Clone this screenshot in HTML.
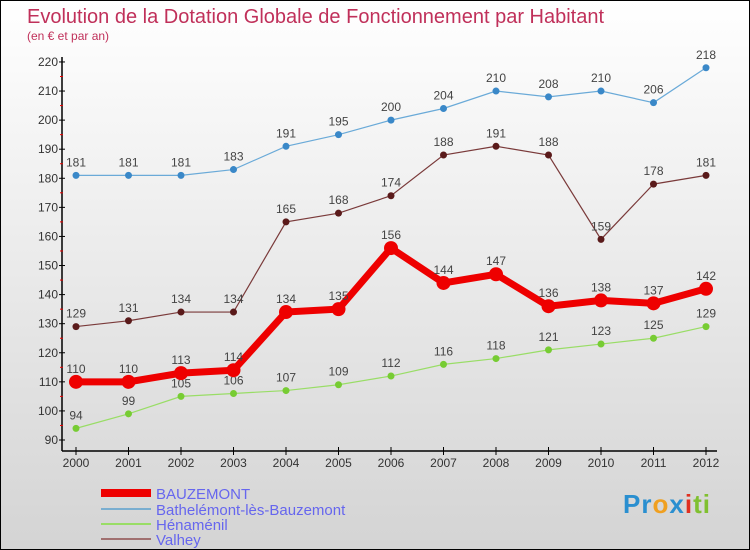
<!DOCTYPE html>
<html><head><meta charset="utf-8"><style>
body{margin:0}
#c{width:750px;height:550px;position:relative;box-sizing:border-box;border:1px solid #000;background:linear-gradient(#fff,#d4d4d4);font-family:"Liberation Sans",sans-serif;overflow:hidden}
</style></head><body>
<div id="c">
<svg id="s" width="748" height="548" style="position:absolute;left:0;top:0">
<text x="26" y="22" font-size="20" fill="#c0305a">Evolution de la Dotation Globale de Fonctionnement par Habitant</text>
<text x="26" y="39" font-size="12" fill="#c0305a">(en € et par an)</text>
<g id="g"></g>
</svg>
<div style="position:absolute;left:622px;top:488px;font-size:26px;font-weight:bold;letter-spacing:1px"><span style="color:#2a8fd0">Pr</span><span style="color:#f0a020">o</span><span style="color:#2a8fd0">x</span><span style="color:#e03020">i</span><span style="color:#80c030">ti</span></div>
</div>
<script>
const years=[2000,2001,2002,2003,2004,2005,2006,2007,2008,2009,2010,2011,2012];
const yTicks=[90,100,110,120,130,140,150,160,170,180,190,200,210,220];
const bauzemont=[110,110,113,114,134,135,156,144,147,136,138,137,142];
const bathelemont=[181,181,181,183,191,195,200,204,210,208,210,206,218];
const henamenil=[94,99,105,106,107,109,112,116,118,121,123,125,129];
const valhey=[129,131,134,134,165,168,174,188,191,188,159,178,181];
const seriesNames=["BAUZEMONT","Bathelémont-lès-Bauzemont","Hénaménil","Valhey"];
const NS="http://www.w3.org/2000/svg";
const g=document.getElementById('g');
const X=i=>75+i*52.5;
const Y=v=>439-(v-90)*2.908;
function mk(t,a,p){const e=document.createElementNS(NS,t);for(const k in a)e.setAttribute(k,a[k]);(p||g).appendChild(e);return e;}
// axes
let ax=mk('line',{x1:61,y1:56,x2:61,y2:450,stroke:'#000','stroke-width':1.5});


let bx=mk('line',{x1:61,y1:450,x2:716,y2:450,stroke:'#000','stroke-width':1.5});


yTicks.forEach(v=>{
 mk('line',{x1:58,y1:Y(v),x2:64,y2:Y(v),stroke:'#000'});
 if(v<220)mk('line',{x1:59,y1:Y(v+5),x2:62,y2:Y(v+5),stroke:'#e00'});
 const t=mk('text',{x:57,y:Y(v)+4,'font-size':12,fill:'#333','text-anchor':'end'});t.textContent=v;
 
 
});
years.forEach((y,i)=>{
 mk('line',{x1:X(i),y1:446,x2:X(i),y2:454,stroke:'#000'});
 const t=mk('text',{x:X(i),y:466,'font-size':12,fill:'#333','text-anchor':'middle'});t.textContent=y;
 
 
});
function series(d,col,dot,w,r,name,lw){
 const pts=d.map((v,i)=>X(i)+','+Y(v)).join(' ');
 const l=mk('polyline',{points:pts,fill:'none',stroke:col,'stroke-width':w});
 
 
 d.forEach((v,i)=>{
  const c=mk('circle',{cx:X(i),cy:Y(v),r:r,fill:dot});
  
  
  const t=mk('text',{x:X(i),y:Y(v)-9,'font-size':12,fill:'#444','text-anchor':'middle'});t.textContent=v;
  
  
 });
}
series(bathelemont,'#6aaad8','#3a88c8',1.2,3.5,'bathelemont');
series(henamenil,'#99dd66','#77cc33',1.2,3.5,'henamenil');
series(valhey,'#7a3a3a','#5a1a1a',1.2,3.5,'valhey');
series(bauzemont,'#ee0000','#ee0000',7,7,'bauzemont');
const lcol=['#ee0000','#7aaed0','#99dd66','#a07070'],lw=[8,2,2,2],ly=[492,508,523,538];
seriesNames.forEach((n,i)=>{
 const l=mk('line',{x1:100,y1:ly[i],x2:150,y2:ly[i],stroke:lcol[i],'stroke-width':lw[i]});
 
 
 const t=mk('text',{x:155,y:ly[i]+6,'font-size':15,fill:'#6666ee'});t.textContent=n;
 
 
});
</script>
</body></html>
